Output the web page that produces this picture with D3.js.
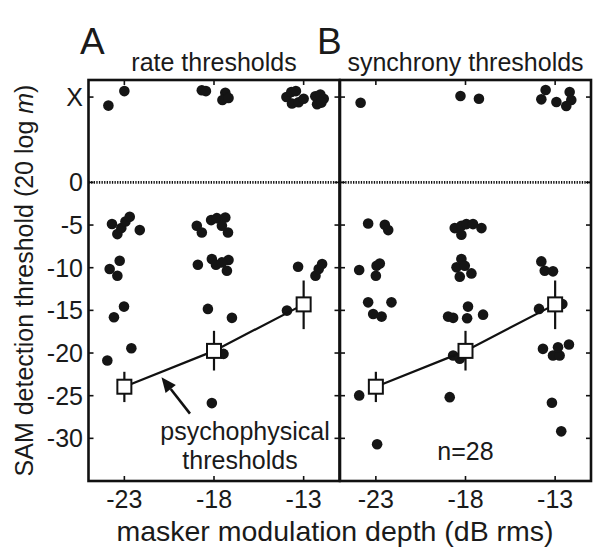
<!DOCTYPE html>
<html><head><meta charset="utf-8">
<script src="https://cdn.jsdelivr.net/npm/d3@7"></script>
<style>
html,body{margin:0;padding:0;background:#fff;}
text{font-family:"Liberation Sans",Arial,Helvetica,sans-serif;fill:#1a1a1a;}
</style></head>
<body>
<svg id="chart" width="604" height="551"></svg>
<script>
// ---- data ----
const xTicks = [-23, -18, -13];
const yTicks = [10, 0, -5, -10, -15, -20, -25, -30];
const yTickLabels = ["X", "0", "-5", "-10", "-15", "-20", "-25", "-30"];

// Panel A: rate thresholds (x = masker depth with jitter, y = threshold; 10 = "X", no threshold)
const rateX = [-23.89, -23.0, -18.68, -18.45, -17.37, -17.53, -17.19,
  -13.96, -13.69, -13.43, -13.65, -13.28, -13.0, -12.35, -12.07, -11.88, -12.25, -12.01,
  -23.69, -23.39, -23.17, -22.94, -22.70, -22.14,
  -23.82, -23.26, -23.39, -23.02, -23.58, -22.61, -23.95,
  -18.96, -18.68, -18.16, -17.84, -17.37, -17.56, -17.22,
  -18.9, -18.12, -17.89, -17.19, -17.28, -17.56,
  -18.34, -17.0, -17.47, -18.12,
  -13.31, -12.34, -12.16, -11.97, -13.93];
const rateY = [9.0, 10.7, 10.8, 10.7, 10.5, 9.65, 9.9,
  10.0, 10.6, 10.7, 9.25, 9.4, 9.8, 10.1, 10.3, 9.8, 9.15, 9.35,
  -4.88, -6.06, -5.36, -4.58, -4.04, -5.59,
  -10.15, -9.18, -10.94, -14.56, -15.81, -19.44, -20.88,
  -5.09, -5.87, -4.42, -4.19, -4.12, -5.09, -5.87,
  -9.65, -8.98, -9.65, -9.1, -10.35, -9.38,
  -14.83, -15.88, -20.1, -25.87,
  -9.88, -10.94, -10.15, -9.57, -15.03];

// Panel B: synchrony thresholds
const syncX = [-23.85, -18.28, -17.25, -13.77, -13.53, -12.93, -12.19, -12.1, -12.38,
  -23.43, -22.5, -22.31, -23.93, -22.96, -22.78, -23.0, -23.43, -22.13, -23.15, -22.68, -23.93, -22.93,
  -18.6, -18.23, -17.95, -17.58, -17.11, -18.23, -18.5, -18.23, -18.04, -18.32, -17.67,
  -18.97, -18.69, -17.86, -17.91, -17.02, -18.69, -18.32, -18.88,
  -13.77, -13.58, -13.12, -13.9, -12.6, -13.68, -13.12, -12.75, -12.84, -12.23, -13.18, -12.66];
const syncY = [9.33, 10.12, 9.8, 9.73, 10.82, 9.42, 10.58, 9.65, 8.95,
  -4.82, -4.97, -5.59, -10.27, -9.77, -9.5, -10.94, -14.06, -14.06, -15.42, -15.73, -24.97, -30.7,
  -5.36, -5.09, -4.89, -4.89, -5.36, -6.14, -9.96, -8.98, -9.77, -11.05, -10.67,
  -15.73, -15.88, -14.56, -15.93, -15.5, -20.29, -20.68, -25.17,
  -9.26, -10.35, -10.43, -14.83, -14.25, -19.51, -20.29, -20.29, -19.32, -19.0, -25.82, -29.18];

// Psychophysical thresholds (mean, lower, upper)
const psychX = [-23, -18, -13];
const psychMean = [-23.95, -19.75, -14.3];
const psychLow = [-25.75, -22.05, -17.2];
const psychHigh = [-22.2, -17.4, -11.5];

const panelTitles = ["rate thresholds", "synchrony thresholds"];
const panelLetters = ["A", "B"];

// ---- layout ----
const svg = d3.select("#chart");
const yTop = 80, yBot = 481;
const y = d3.scaleLinear().domain([-35, 12]).range([yBot, yTop]);
const xA = d3.scaleLinear().domain([-25, -11]).range([88.5, 339.5]);
const xB = d3.scaleLinear().domain([-25, -11]).range([340, 591]);
const FS = 25;

function panel(x, xs, ys, idx) {
  const g = svg.append("g");
  const [x0, x1] = x.range();
  // zero line dotted
  g.append("line").attr("x1", x0).attr("x2", x1).attr("y1", y(0)).attr("y2", y(0))
    .attr("stroke", "#111").attr("stroke-width", 2.6).attr("stroke-dasharray", "1.3,1.3");
  // ticks
  const tk = 5;
  const tg = g.append("g").attr("stroke", "#111").attr("stroke-width", 1.6);
  xTicks.forEach(t => {
    tg.append("line").attr("x1", x(t)).attr("x2", x(t)).attr("y1", yBot).attr("y2", yBot - tk);
    tg.append("line").attr("x1", x(t)).attr("x2", x(t)).attr("y1", yTop).attr("y2", yTop + tk);
  });
  yTicks.forEach(t => {
    tg.append("line").attr("x1", x0).attr("x2", x0 + tk).attr("y1", y(t)).attr("y2", y(t));
    tg.append("line").attr("x1", x1).attr("x2", x1 - tk).attr("y1", y(t)).attr("y2", y(t));
  });
  // x tick labels
  xTicks.forEach(t => {
    g.append("text").attr("x", x(t)).attr("y", 508).attr("text-anchor", "middle")
      .attr("font-size", FS).text(String(t));
  });
  // dots
  g.selectAll("circle.d").data(xs.map((v, i) => [v, ys[i]])).join("circle")
    .attr("class", "d").attr("cx", d => x(d[0])).attr("cy", d => y(d[1])).attr("r", 5.3)
    .attr("fill", "#151515");
  // psychophysical line
  const line = d3.line().x(d => x(d[0])).y(d => y(d[1]));
  g.append("path").datum(psychX.map((v, i) => [v, psychMean[i]]))
    .attr("d", line).attr("fill", "none").attr("stroke", "#111").attr("stroke-width", 2.2);
  psychX.forEach((v, i) => {
    g.append("line").attr("x1", x(v)).attr("x2", x(v)).attr("y1", y(psychLow[i])).attr("y2", y(psychHigh[i]))
      .attr("stroke", "#111").attr("stroke-width", 2.2);
  });
  psychX.forEach((v, i) => {
    g.append("rect").attr("x", x(v) - 7).attr("y", y(psychMean[i]) - 7).attr("width", 14).attr("height", 14)
      .attr("fill", "#fff").attr("stroke", "#111").attr("stroke-width", 2);
  });
  // frame
  g.append("rect").attr("x", x0).attr("y", yTop).attr("width", x1 - x0).attr("height", yBot - yTop)
    .attr("fill", "none").attr("stroke", "#111").attr("stroke-width", 2.6);
  // title
  svg.append("text").attr("x", (x0 + x1) / 2).attr("y", 71).attr("text-anchor", "middle")
    .attr("font-size", FS).text(panelTitles[idx]);
  svg.append("text").attr("x", idx === 0 ? 80 : 317).attr("y", 54)
    .attr("font-size", 37).text(panelLetters[idx]);
}

panel(xA, rateX, rateY, 0);
panel(xB, syncX, syncY, 1);

// y tick labels
yTicks.forEach((t, i) => {
  svg.append("text").attr("x", 83).attr("y", y(t)).attr("dy", "0.36em").attr("text-anchor", "end")
    .attr("font-size", FS).text(yTickLabels[i]);
});

// y axis label
const yl = svg.append("text").attr("transform", `translate(33,${(yTop + yBot) / 2}) rotate(-90)`)
  .attr("text-anchor", "middle").attr("font-size", FS);
yl.append("tspan").text("SAM detection threshold (20 log ");
yl.append("tspan").attr("font-style", "italic").text("m");
yl.append("tspan").text(")");

// x axis label
svg.append("text").attr("x", 335).attr("y", 541).attr("text-anchor", "middle")
  .attr("font-size", 28.5).text("masker modulation depth (dB rms)");

// annotation arrow in panel A
const arrowFrom = [-19.34, -27.1], arrowTo = [-20.93, -22.83];
const ax0 = xA(arrowFrom[0]), ay0 = y(arrowFrom[1]), ax1 = xA(arrowTo[0]), ay1 = y(arrowTo[1]);
const ang = Math.atan2(ay1 - ay0, ax1 - ax0);
const hl = 15, hw = 6.5;
const bx = ax1 - hl * Math.cos(ang), by = ay1 - hl * Math.sin(ang);
svg.append("line").attr("x1", ax0).attr("y1", ay0).attr("x2", bx).attr("y2", by)
  .attr("stroke", "#111").attr("stroke-width", 2.6);
svg.append("path").attr("d", `M${ax1},${ay1} L${bx + hw * Math.sin(ang)},${by - hw * Math.cos(ang)} L${bx - hw * Math.sin(ang)},${by + hw * Math.cos(ang)} Z`)
  .attr("fill", "#111");
svg.append("text").attr("x", xA(-16.27)).attr("y", 440).attr("text-anchor", "middle")
  .attr("font-size", FS).text("psychophysical");
svg.append("text").attr("x", xA(-16.55)).attr("y", 469).attr("text-anchor", "middle")
  .attr("font-size", FS).text("thresholds");

// n label
svg.append("text").attr("x", xB(-18)).attr("y", 460).attr("text-anchor", "middle")
  .attr("font-size", FS).text("n=28");
</script>
</body></html>
